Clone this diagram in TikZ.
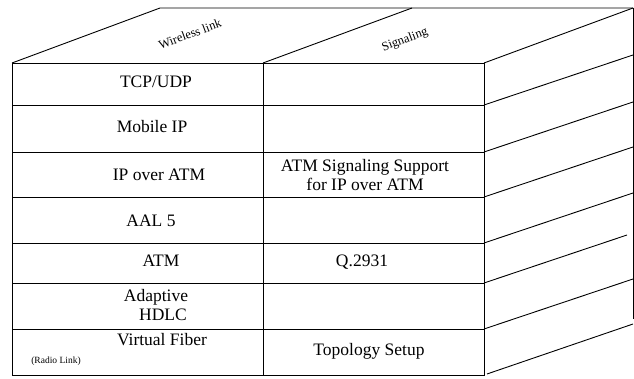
\documentclass[tikz,border=0pt]{standalone}
\usepackage{fontspec}
\setmainfont{Liberation Serif}
\usepackage{tikz}

\tikzset{
  edge/.style={draw=black, line width=0.9pt},
  layer/.style={font=\fontsize{17.5}{19}\selectfont, align=center, inner sep=0pt},
  small/.style={font=\fontsize{9.5}{11}\selectfont, inner sep=0pt},
  face/.style={font=\fontsize{12.5}{14}\selectfont, rotate=20.4, inner sep=0pt}
}

\begin{document}
\begin{tikzpicture}[x=1pt, y=-1pt]
\useasboundingbox (0,0) rectangle (634,379);
% top face
\draw[edge] (12,63) -- (160,8) -- (633,8);
\draw[edge] (263,63) -- (412,8);
\draw[edge] (484,63) -- (633,8);
\node[face] (wireless) at (190,34) {Wireless link};
\node[face] (signal) at (405,40) {Signaling};
% front face
\draw[edge] (12,63) rectangle (484,375);
\draw[edge] (263,63) -- (263,375);
\draw[edge] (12,105) -- (484,105);
\draw[edge] (12,152) -- (484,152);
\draw[edge] (12,197) -- (484,197);
\draw[edge] (12,243) -- (484,243);
\draw[edge] (12,283) -- (484,283);
\draw[edge] (12,329) -- (484,329);
% side face
\draw[edge] (633,8) -- (633,319);
\draw[edge] (484,105) -- (633,55);
\draw[edge] (484,152) -- (633,102);
\draw[edge] (484,197) -- (633,147);
\draw[edge] (484,243) -- (633,193);
\draw[edge] (484,283) -- (627,235);
\draw[edge] (484,329) -- (633,279);
\draw[edge] (487,374) -- (633,324);
% protocol stack
\node[layer] (tcp) at (156,82) {TCP/UDP};
\node[layer] (mip) at (152,127) {Mobile IP};
\node[layer] (ipatm) at (159,175) {IP over ATM};
\node[layer] (aal) at (151,221) {AAL 5};
\node[layer] (atm) at (161,261) {ATM};
\node[layer] (hdlc) at (156,305) {Adaptive\\\hspace*{0.8em}HDLC};
\node[layer] (vfiber) at (162,340) {Virtual Fiber};
\node[small] (radio) at (56,361) {(Radio Link)};
% signaling column
\node[layer] (sigsup) at (365,175) {ATM Signaling Support\\for IP over ATM};
\node[layer] (q2931) at (362,262) {Q.2931};
\node[layer] (topo) at (369,351) {Topology Setup};
\end{tikzpicture}
\end{document}
